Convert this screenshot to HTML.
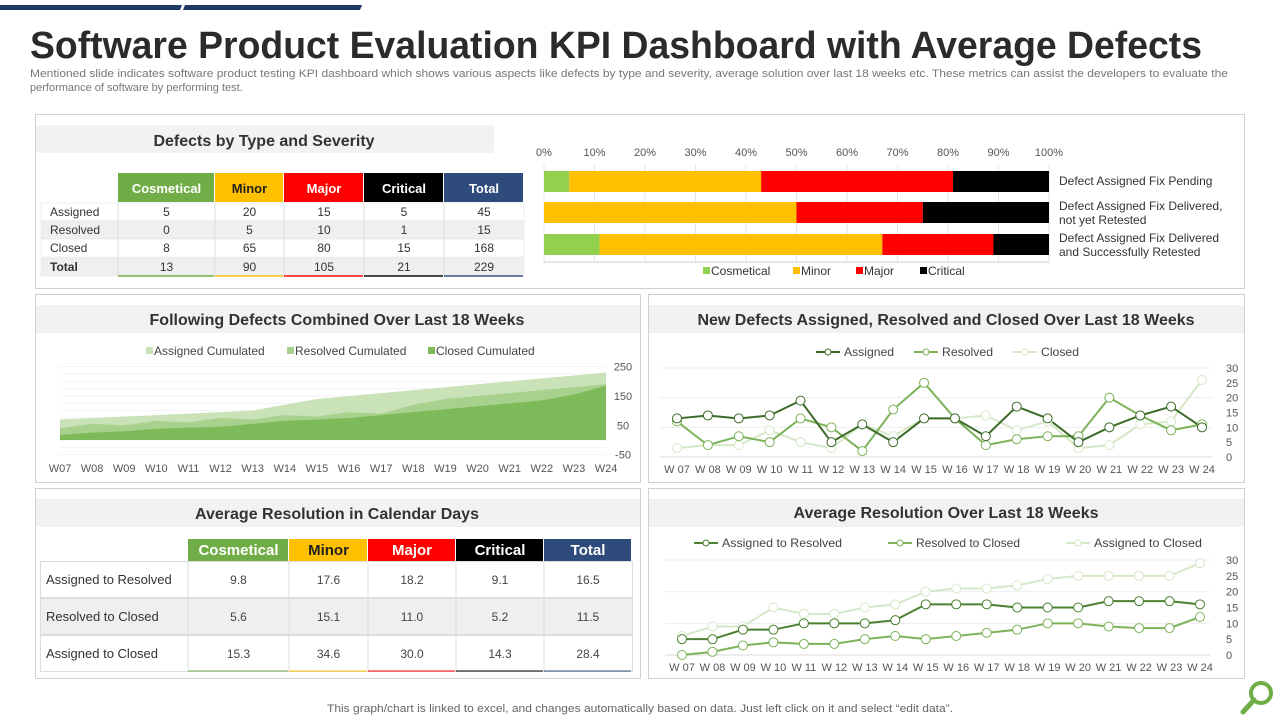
<!DOCTYPE html>
<html><head><meta charset="utf-8"><style>
html,body{margin:0;padding:0;background:#fff;}
svg{display:block;font-family:"Liberation Sans",sans-serif;}
</style></head><body>
<svg id="s" width="1280" height="720" viewBox="0 0 1280 720" xmlns="http://www.w3.org/2000/svg">
<g>
<polygon points="0,5 182,5 180,10 0,10" fill="#1f3864"/>
<polygon points="185,5 362,5 360,10 183,10" fill="#1f3864"/>
</g>
<text x="30" y="58" font-size="38" font-weight="bold" fill="#2b2b2b" textLength="1172" lengthAdjust="spacingAndGlyphs">Software Product Evaluation KPI Dashboard with Average Defects</text>
<text x="30" y="77" font-size="11" fill="#777" textLength="1198" lengthAdjust="spacingAndGlyphs">Mentioned slide indicates software product testing KPI dashboard which shows various aspects like defects by type  and severity,  average solution over last 18 weeks etc. These metrics can assist the developers to evaluate the</text>
<text x="30" y="91" font-size="11" fill="#777">performance of software by  performing test.</text>

<rect x="35.5" y="114.5" width="1209" height="174" fill="#fff" stroke="#d0d0d0"/>
<rect x="36" y="125" width="458" height="28" rx="3" fill="#f2f2f2"/>
<text x="264" y="146" font-size="16" font-weight="bold" fill="#333" text-anchor="middle">Defects  by Type and Severity</text>

<rect x="35.5" y="294.5" width="605" height="188" fill="#fff" stroke="#d0d0d0"/>
<rect x="36" y="305" width="604" height="28" fill="#f2f2f2"/>
<text x="337" y="325" font-size="16" font-weight="bold" fill="#333" text-anchor="middle">Following Defects  Combined Over Last 18 Weeks</text>

<rect x="648.5" y="294.5" width="596" height="188" fill="#fff" stroke="#d0d0d0"/>
<rect x="649" y="305" width="595" height="28" fill="#f2f2f2"/>
<text x="946" y="325" font-size="16" font-weight="bold" fill="#333" text-anchor="middle">New Defects  Assigned, Resolved and Closed Over Last 18 Weeks</text>

<rect x="35.5" y="488.5" width="605" height="190" fill="#fff" stroke="#d0d0d0"/>
<rect x="36" y="499" width="604" height="28" fill="#f2f2f2"/>
<text x="337" y="519" font-size="16" font-weight="bold" fill="#333" text-anchor="middle">Average Resolution  in Calendar Days</text>

<rect x="648.5" y="488.5" width="596" height="190" fill="#fff" stroke="#d0d0d0"/>
<rect x="649" y="499" width="595" height="28" fill="#f2f2f2"/>
<text x="946" y="518" font-size="16" font-weight="bold" fill="#333" text-anchor="middle">Average Resolution Over Last 18 Weeks</text>

<text x="327" y="712" font-size="11" fill="#666" textLength="626" lengthAdjust="spacingAndGlyphs">This graph/chart is linked to excel,  and changes automatically based on data. Just left click on it and select “edit data”.</text>
<g>
<circle cx="1261" cy="693" r="10" fill="none" stroke="#70ad47" stroke-width="4"/>
<line x1="1254" y1="700" x2="1243" y2="712" stroke="#70ad47" stroke-width="5" stroke-linecap="round"/>
</g>
<g id="dyn"></g>
</svg>
<script>
// ---------- data ----------
const severities = ["Cosmetical","Minor","Major","Critical"];
const sevColors = ["#92d050","#ffc000","#ff0000","#000000"];
const stackCats = ["Defect Assigned Fix Pending","Defect Assigned Fix Delivered,|not yet Retested","Defect Assigned Fix Delivered|and Successfully Retested"];
const stackCosm = [5,0,11];
const stackMinor = [38,50,56];
const stackMajor = [38,25,22];
const stackCrit = [19,25,11];
const pctTicks = [0,10,20,30,40,50,60,70,80,90,100];

const t1Rows = ["Assigned","Resolved","Closed","Total"];
const t1Cosm = ["5","0","8","13"];
const t1Minor = ["20","5","65","90"];
const t1Major = ["15","10","80","105"];
const t1Crit = ["5","1","15","21"];
const t1Total = ["45","15","168","229"];

const t2Rows = ["Assigned to Resolved","Resolved  to Closed","Assigned to Closed"];
const t2Cosm = ["9.8","5.6","15.3"];
const t2Minor = ["17.6","15.1","34.6"];
const t2Major = ["18.2","11.0","30.0"];
const t2Crit = ["9.1","5.2","14.3"];
const t2Total = ["16.5","11.5","28.4"];

const weeksA = ["W07","W08","W09","W10","W11","W12","W13","W14","W15","W16","W17","W18","W19","W20","W21","W22","W23","W24"];
const weeksB = ["W 07","W 08","W 09","W 10","W 11","W 12","W 13","W 14","W 15","W 16","W 17","W 18","W 19","W 20","W 21","W 22","W 23","W 24"];
const cumAssigned = [70,75,80,85,90,95,100,120,140,150,160,170,180,190,200,210,220,230];
const cumResolved = [40,55,50,65,60,75,70,85,80,95,90,120,140,150,160,170,180,190];
const cumClosed = [17,25,30,38,42,45,55,65,70,75,85,95,105,115,125,135,155,185];
const cumTicks = [-50,50,150,250];

const newAssigned = [13,14,13,14,19,5,11,5,13,13,7,17,13,5,10,14,17,10];
const newResolved = [12,4,7,5,13,10,2,16,25,13,4,6,7,7,20,14,9,11];
const newClosed = [3,4,4,9,5,3,11,7,13,13,14,9,12,3,4,11,12,26];
const newTicks = [0,5,10,15,20,25,30];

const avgAR = [5,5,8,8,10,10,10,11,16,16,16,15,15,15,17,17,17,16];
const avgRC = [0,1,3,4,3.5,3.5,5,6,5,6,7,8,10,10,9,8.5,8.5,12];
const avgAC = [6,9,9,15,13,13,15,16,20,21,21,22,24,25,25,25,25,29];
const avgTicks = [0,5,10,15,20,25,30];

// ---------- helpers ----------
const NS="http://www.w3.org/2000/svg";
const root=document.getElementById('dyn');
function mk(tag,attrs,parent){const e=document.createElementNS(NS,tag);for(const k in attrs)e.setAttribute(k,attrs[k]);(parent||root).appendChild(e);return e;}
function txt(str,attrs,parent){const e=mk('text',attrs,parent);e.textContent=str;return e;}

// ---------- stacked bar ----------
const sx0=544,sx1=1049;
const sX=p=>sx0+(sx1-sx0)*p/100;
const barY=[171,202,234], barH=21;
pctTicks.forEach(p=>{
  const g=mk('line',{x1:sX(p),x2:sX(p),y1:165,y2:262,stroke:'#e6e6e6'});
  
  
  const t=txt(p+'%',{x:sX(p),y:156,'font-size':11,fill:'#555','text-anchor':'middle'});
  
  
});
const sAxis=mk('line',{x1:sx0,x2:sx1,y1:262,y2:262,stroke:'#ccc'});


const stackSeries=[stackCosm,stackMinor,stackMajor,stackCrit];
stackCats.forEach((c,i)=>{
  let acc=0;
  stackSeries.forEach((s,j)=>{
    const r=mk('rect',{x:sX(acc),y:barY[i],width:sX(acc+s[i])-sX(acc),height:barH,fill:sevColors[j]});
    
    
    acc+=s[i];
  });
  const lines=c.split('|');
  lines.forEach((ln,k)=>{
    const t=txt(ln,{x:1059,y:(lines.length==1?barY[i]+14:barY[i]+8+k*14),'font-size':12,fill:'#333'});
    
    
  });
});
const legX=[703,793,856,920];
severities.forEach((s,j)=>{
  const r=mk('rect',{x:legX[j],y:267,width:7,height:7,fill:sevColors[j]});
  
  
  const t=txt(s,{x:legX[j]+8,y:275,'font-size':12,fill:'#333'});
  
  
});

// ---------- table 1 ----------
const t1ColX=[118,215,284,364,444,524];
const t1Hdr=["Cosmetical","Minor","Major","Critical","Total"];
const t1Fill=["#70ad47","#ffc000","#ff0000","#000000","#2f4b7c"];
const t1Txt=["#fff","#222","#fff","#fff","#fff"];
const t1Cols=[t1Cosm,t1Minor,t1Major,t1Crit,t1Total];
t1Hdr.forEach((h,j)=>{
  const r=mk('rect',{x:t1ColX[j],y:173,width:t1ColX[j+1]-t1ColX[j]-1,height:29,fill:t1Fill[j]});
  
  
  const t=txt(h,{x:(t1ColX[j]+t1ColX[j+1])/2,y:193,'font-size':13,'font-weight':'bold',fill:t1Txt[j],'text-anchor':'middle'});
  
  
});
const t1RowY=[203,221,239,258];
t1Rows.forEach((rn,i)=>{
  const bg=mk('rect',{x:41,y:t1RowY[i],width:483,height:18,fill:(i%2==1?'#efefef':'#fff'),stroke:'#e0e0e0','stroke-width':0.5});
  
  
  const t=txt(rn,{x:50,y:t1RowY[i]+13,'font-size':12,fill:'#333','font-weight':(i==3?'bold':'normal')});
  
  
  t1Cols.forEach((col,j)=>{
    const v=txt(col[i],{x:(t1ColX[j]+t1ColX[j+1])/2,y:t1RowY[i]+13,'font-size':12,fill:'#333','text-anchor':'middle'});
    
    
    const d=mk('line',{x1:t1ColX[j],x2:t1ColX[j],y1:203,y2:276,stroke:'#ddd'});
    
    
  });
});
t1Fill.forEach((c,j)=>{
  const u=mk('rect',{x:t1ColX[j],y:275,width:t1ColX[j+1]-t1ColX[j]-1,height:2,fill:c,opacity:0.7});
  
  
});

// ---------- table 2 ----------
const t2ColX=[188,289,368,456,544,632];
const t2Cols=[t2Cosm,t2Minor,t2Major,t2Crit,t2Total];
t1Hdr.forEach((h,j)=>{
  const r=mk('rect',{x:t2ColX[j],y:539,width:t2ColX[j+1]-t2ColX[j]-1,height:22,fill:t1Fill[j]});
  
  
  const t=txt(h,{x:(t2ColX[j]+t2ColX[j+1])/2,y:555,'font-size':15,'font-weight':'bold',fill:t1Txt[j],'text-anchor':'middle'});
  
  
});
const t2RowY=[561,598,635];
t2Rows.forEach((rn,i)=>{
  const bg=mk('rect',{x:40.5,y:t2RowY[i]+0.5,width:592,height:36,fill:(i==1?'#efefef':'#fff'),stroke:'#ddd'});
  
  
  const t=txt(rn,{x:46,y:t2RowY[i]+23,'font-size':13,fill:'#333'});
  
  
  t2Cols.forEach((col,j)=>{
    const v=txt(col[i],{x:(t2ColX[j]+t2ColX[j+1])/2,y:t2RowY[i]+23,'font-size':12,fill:'#444','text-anchor':'middle'});
    
    
    const d=mk('line',{x1:t2ColX[j],x2:t2ColX[j],y1:561,y2:671,stroke:'#ddd'});
    
    
  });
});
t1Fill.forEach((c,j)=>{
  const u=mk('rect',{x:t2ColX[j],y:670,width:t2ColX[j+1]-t2ColX[j]-1,height:2,fill:c,opacity:0.5});
  
  
});

// ---------- area chart ----------
const ax0=60,ax1=606;
const aX=i=>ax0+(ax1-ax0)*i/(weeksA.length-1);
const aY=v=>440-v*0.2933;
for(let v=-50;v<=250;v+=25){
  const g=mk('line',{x1:ax0,x2:ax1,y1:aY(v),y2:aY(v),stroke:'#f3f3f3'});
  
  
}
cumTicks.forEach(v=>{
  const t=txt(String(v),{x:623,y:aY(v)+4,'font-size':11,fill:'#555','text-anchor':'middle'});
  
  
});
weeksA.forEach((w,i)=>{
  const t=txt(w,{x:aX(i),y:472,'font-size':11,fill:'#555','text-anchor':'middle'});
  
  
});
function areaPath(arr){let d='M'+aX(0)+','+aY(0);arr.forEach((v,i)=>d+=' L'+aX(i)+','+aY(v));d+=' L'+aX(arr.length-1)+','+aY(0)+' Z';return d;}
const areaCols=["#c9e2b8","#a9d18e","#7dbb5a"];
const areaNames=["assigned-cumulated","resolved-cumulated","closed-cumulated"];
const areaLabels=["Assigned Cumulated","Resolved Cumulated","Closed Cumulated"];
[cumAssigned,cumResolved,cumClosed].forEach((arr,k)=>{
  const p=mk('path',{d:areaPath(arr),fill:areaCols[k]});
  
  
});
const aLegX=[146,287,428];
areaLabels.forEach((l,k)=>{
  const r=mk('rect',{x:aLegX[k],y:347,width:7,height:7,fill:areaCols[k]});
  
  
  const t=txt(l,{x:aLegX[k]+8,y:355,'font-size':12,fill:'#444'});
  
  
});

// ---------- line charts ----------
function lineChart(cfg){
  const X=i=>cfg.x0+(cfg.x1-cfg.x0)*i/(cfg.weeks.length-1);
  const Y=v=>cfg.y0-(cfg.y0-cfg.y30)*v/30;
  [10,20,30].forEach(v=>{
    const g=mk('line',{x1:cfg.gx0,x2:cfg.x1+10,y1:Y(v),y2:Y(v),stroke:'#eeeeee'});
    
    
  });
  const ax=mk('line',{x1:cfg.gx0,x2:cfg.x1+10,y1:Y(0),y2:Y(0),stroke:'#d9d9d9'});
  
  
  cfg.ticks.forEach(v=>{
    const t=txt(String(v),{x:1226,y:Y(v)+4,'font-size':11,fill:'#555','text-anchor':'start'});
    
    
  });
  cfg.weeks.forEach((w,i)=>{
    const t=txt(w,{x:X(i),y:cfg.xly,'font-size':11,fill:'#555','text-anchor':'middle'});
    
    
  });
  cfg.series.forEach((s,k)=>{
    const pts=s.map((v,i)=>X(i)+','+Y(v)).join(' ');
    const pl=mk('polyline',{points:pts,fill:'none',stroke:cfg.colors[k],'stroke-width':2});
    
    
  });
  cfg.series.forEach((s,k)=>{
    s.forEach((v,i)=>{
      const c=mk('circle',{cx:X(i),cy:Y(v),r:4.5,fill:'#fff',stroke:cfg.colors[k],'stroke-width':1});
      
      
    });
  });
  cfg.labels.forEach((l,k)=>{
    const lx=cfg.legX[k];
    const ln=mk('line',{x1:lx,x2:lx+24,y1:cfg.legY-4,y2:cfg.legY-4,stroke:cfg.legColors[k],'stroke-width':2});
    
    
    const c=mk('circle',{cx:lx+12,cy:cfg.legY-4,r:3,fill:'#fff',stroke:cfg.legColors[k]});
    
    
    const t=txt(l,{x:lx+28,y:cfg.legY,'font-size':12,fill:'#444',textLength:cfg.legW[k],lengthAdjust:'spacingAndGlyphs'});
    
    
  });
}
lineChart({name:'weekly',x0:677,x1:1202,gx0:660,y0:457,y30:368,weeks:weeksB,ticks:newTicks,xly:473,
  series:[newClosed,newResolved,newAssigned],keys:['closed','resolved','assigned'],
  colors:['#d5e8c8','#7cb35a','#3d6b2a'],legColors:['#3d6b2a','#7cb35a','#d5e8c8'],
  labels:['Assigned','Resolved','Closed'],legX:[816,914,1013],legY:356,legW:[50,51,38]});
lineChart({name:'avg-weeks',x0:682,x1:1200,gx0:665,y0:655,y30:560,weeks:weeksB,ticks:avgTicks,xly:671,
  series:[avgAC,avgRC,avgAR],keys:['assigned-to-closed','resolved-to-closed','assigned-to-resolved'],
  colors:['#d5e8c8','#7cb35a','#4a8030'],legColors:['#4a8030','#7cb35a','#d5e8c8'],
  labels:['Assigned to  Resolved','Resolved to Closed','Assigned  to Closed'],legX:[694,888,1066],legY:547,legW:[120,104,108]});
</script>
</body></html>
